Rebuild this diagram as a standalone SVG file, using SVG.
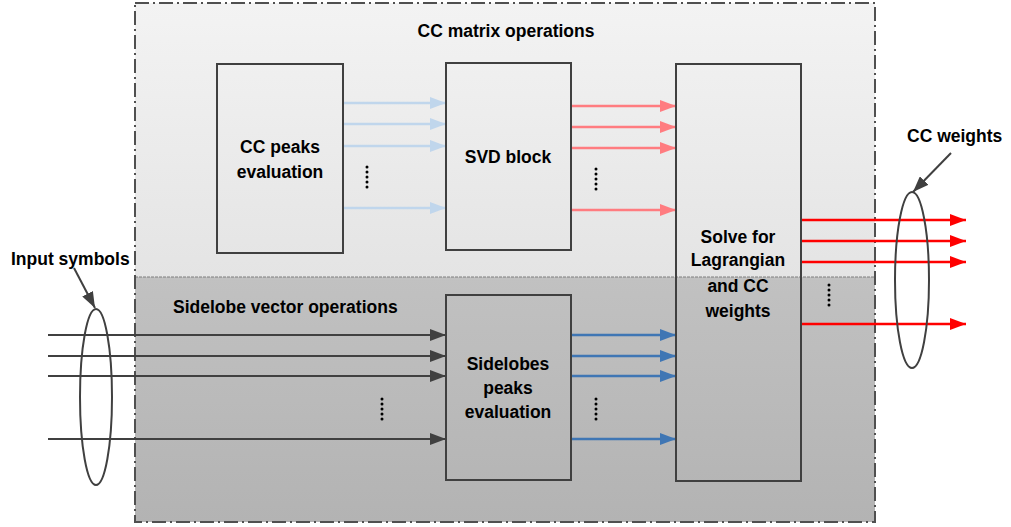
<svg xmlns="http://www.w3.org/2000/svg" width="1011" height="527" viewBox="0 0 1011 527">
<defs>
<linearGradient id="gTop" x1="0" y1="0" x2="0" y2="1"><stop offset="0" stop-color="#f3f3f3"/><stop offset="1" stop-color="#e4e4e4"/></linearGradient>
<linearGradient id="gBot" x1="0" y1="0" x2="0" y2="1"><stop offset="0" stop-color="#c1c1c1"/><stop offset="1" stop-color="#b3b3b3"/></linearGradient>
<marker id="aLB" markerUnits="userSpaceOnUse" markerWidth="16" markerHeight="12" refX="16" refY="6" orient="auto"><path d="M0,0 L16,6 L0,12 Z" fill="#c0d6ec"/></marker>
<marker id="aPK" markerUnits="userSpaceOnUse" markerWidth="16" markerHeight="12" refX="16" refY="6" orient="auto"><path d="M0,0 L16,6 L0,12 Z" fill="#ff7c80"/></marker>
<marker id="aBL" markerUnits="userSpaceOnUse" markerWidth="16" markerHeight="12" refX="16" refY="6" orient="auto"><path d="M0,0 L16,6 L0,12 Z" fill="#3f76b4"/></marker>
<marker id="aDK" markerUnits="userSpaceOnUse" markerWidth="16" markerHeight="12" refX="16" refY="6" orient="auto"><path d="M0,0 L16,6 L0,12 Z" fill="#404040"/></marker>
<marker id="aRD" markerUnits="userSpaceOnUse" markerWidth="16" markerHeight="12" refX="16" refY="6" orient="auto"><path d="M0,0 L16,6 L0,12 Z" fill="#ff0000"/></marker>
</defs>
<style>
.box{fill:none;stroke:#404040;stroke-width:2}
.t{font-family:"Liberation Sans",Arial,sans-serif;font-weight:bold;font-size:17.5px;fill:#000}
.c{text-anchor:middle}
.lb{stroke:#c0d6ec;stroke-width:2.5;fill:none}
.pk{stroke:#ff7c80;stroke-width:2.5;fill:none}
.bl{stroke:#3f76b4;stroke-width:2.5;fill:none}
.dk{stroke:#404040;stroke-width:2;fill:none}
.rd{stroke:#ff0000;stroke-width:2.5;fill:none}
.dots{stroke:#000;stroke-width:3;stroke-dasharray:0 5;stroke-linecap:round;fill:none}
.ell{fill:none;stroke:#404040;stroke-width:2}
</style>
<g id="regions">
<rect x="135" y="3" width="740" height="274" fill="url(#gTop)"/>
<rect x="135" y="277" width="740" height="245" fill="url(#gBot)"/>
<line x1="135" y1="277" x2="875" y2="277" stroke="#7f7f7f" stroke-width="1" stroke-dasharray="3 1"/>
<rect x="135" y="3" width="740" height="519" fill="none" stroke="#505050" stroke-width="2" stroke-dasharray="14 4 2 4"/>
<text class="t c" x="506" y="37">CC matrix operations</text>
<text class="t" x="173" y="313">Sidelobe vector operations</text>
</g>
<g id="connectors">
<line class="lb" x1="343" y1="103" x2="446" y2="103" marker-end="url(#aLB)"/>
<line class="lb" x1="343" y1="124" x2="446" y2="124" marker-end="url(#aLB)"/>
<line class="lb" x1="343" y1="146" x2="446" y2="146" marker-end="url(#aLB)"/>
<line class="lb" x1="343" y1="208" x2="446" y2="208" marker-end="url(#aLB)"/>
<line class="pk" x1="571" y1="106" x2="676" y2="106" marker-end="url(#aPK)"/>
<line class="pk" x1="571" y1="127" x2="676" y2="127" marker-end="url(#aPK)"/>
<line class="pk" x1="571" y1="148" x2="676" y2="148" marker-end="url(#aPK)"/>
<line class="pk" x1="571" y1="210" x2="676" y2="210" marker-end="url(#aPK)"/>
<line class="bl" x1="571" y1="335" x2="676" y2="335" marker-end="url(#aBL)"/>
<line class="bl" x1="571" y1="356" x2="676" y2="356" marker-end="url(#aBL)"/>
<line class="bl" x1="571" y1="376" x2="676" y2="376" marker-end="url(#aBL)"/>
<line class="bl" x1="571" y1="439" x2="676" y2="439" marker-end="url(#aBL)"/>
<line class="dk" x1="48" y1="335" x2="446" y2="335" marker-end="url(#aDK)"/>
<line class="dk" x1="48" y1="356" x2="446" y2="356" marker-end="url(#aDK)"/>
<line class="dk" x1="48" y1="376" x2="446" y2="376" marker-end="url(#aDK)"/>
<line class="dk" x1="48" y1="439" x2="446" y2="439" marker-end="url(#aDK)"/>
<line class="rd" x1="801" y1="220" x2="966" y2="220" marker-end="url(#aRD)"/>
<line class="rd" x1="801" y1="241" x2="966" y2="241" marker-end="url(#aRD)"/>
<line class="rd" x1="801" y1="262" x2="966" y2="262" marker-end="url(#aRD)"/>
<line class="rd" x1="801" y1="324" x2="966" y2="324" marker-end="url(#aRD)"/>
<line class="dk" x1="74" y1="268" x2="95" y2="308" marker-end="url(#aDK)"/>
<line class="dk" x1="951" y1="153" x2="913" y2="192" marker-end="url(#aDK)"/>
<line class="dots" x1="367" y1="167" x2="367" y2="188"/>
<line class="dots" x1="596" y1="169" x2="596" y2="190"/>
<line class="dots" x1="382" y1="399" x2="382" y2="420"/>
<line class="dots" x1="596" y1="399" x2="596" y2="420"/>
<line class="dots" x1="829" y1="285" x2="829" y2="306"/>
</g>
<g id="cc-peaks">
<rect class="box" x="217" y="64" width="126" height="189"/>
<text class="t c" x="280" y="153">CC peaks</text>
<text class="t c" x="280" y="178">evaluation</text>
</g>
<g id="svd">
<rect class="box" x="446" y="63" width="125" height="187"/>
<text class="t c" x="508" y="163">SVD block</text>
</g>
<g id="solve">
<rect class="box" x="676" y="64" width="125" height="417"/>
<text class="t c" x="738" y="243">Solve for</text>
<text class="t c" x="738" y="266">Lagrangian</text>
<text class="t c" x="738" y="292">and CC</text>
<text class="t c" x="738" y="317">weights</text>
</g>
<g id="sidelobes">
<rect class="box" x="446" y="295" width="125" height="185"/>
<text class="t c" x="508" y="370">Sidelobes</text>
<text class="t c" x="508" y="394">peaks</text>
<text class="t c" x="508" y="418">evaluation</text>
</g>
<g id="input-symbols">
<ellipse class="ell" cx="96" cy="397" rx="16" ry="88"/>
<text class="t" x="11" y="265">Input symbols</text>
</g>
<g id="cc-weights">
<ellipse class="ell" cx="912" cy="280" rx="17" ry="88"/>
<text class="t" x="907" y="142">CC weights</text>
</g>
</svg>
